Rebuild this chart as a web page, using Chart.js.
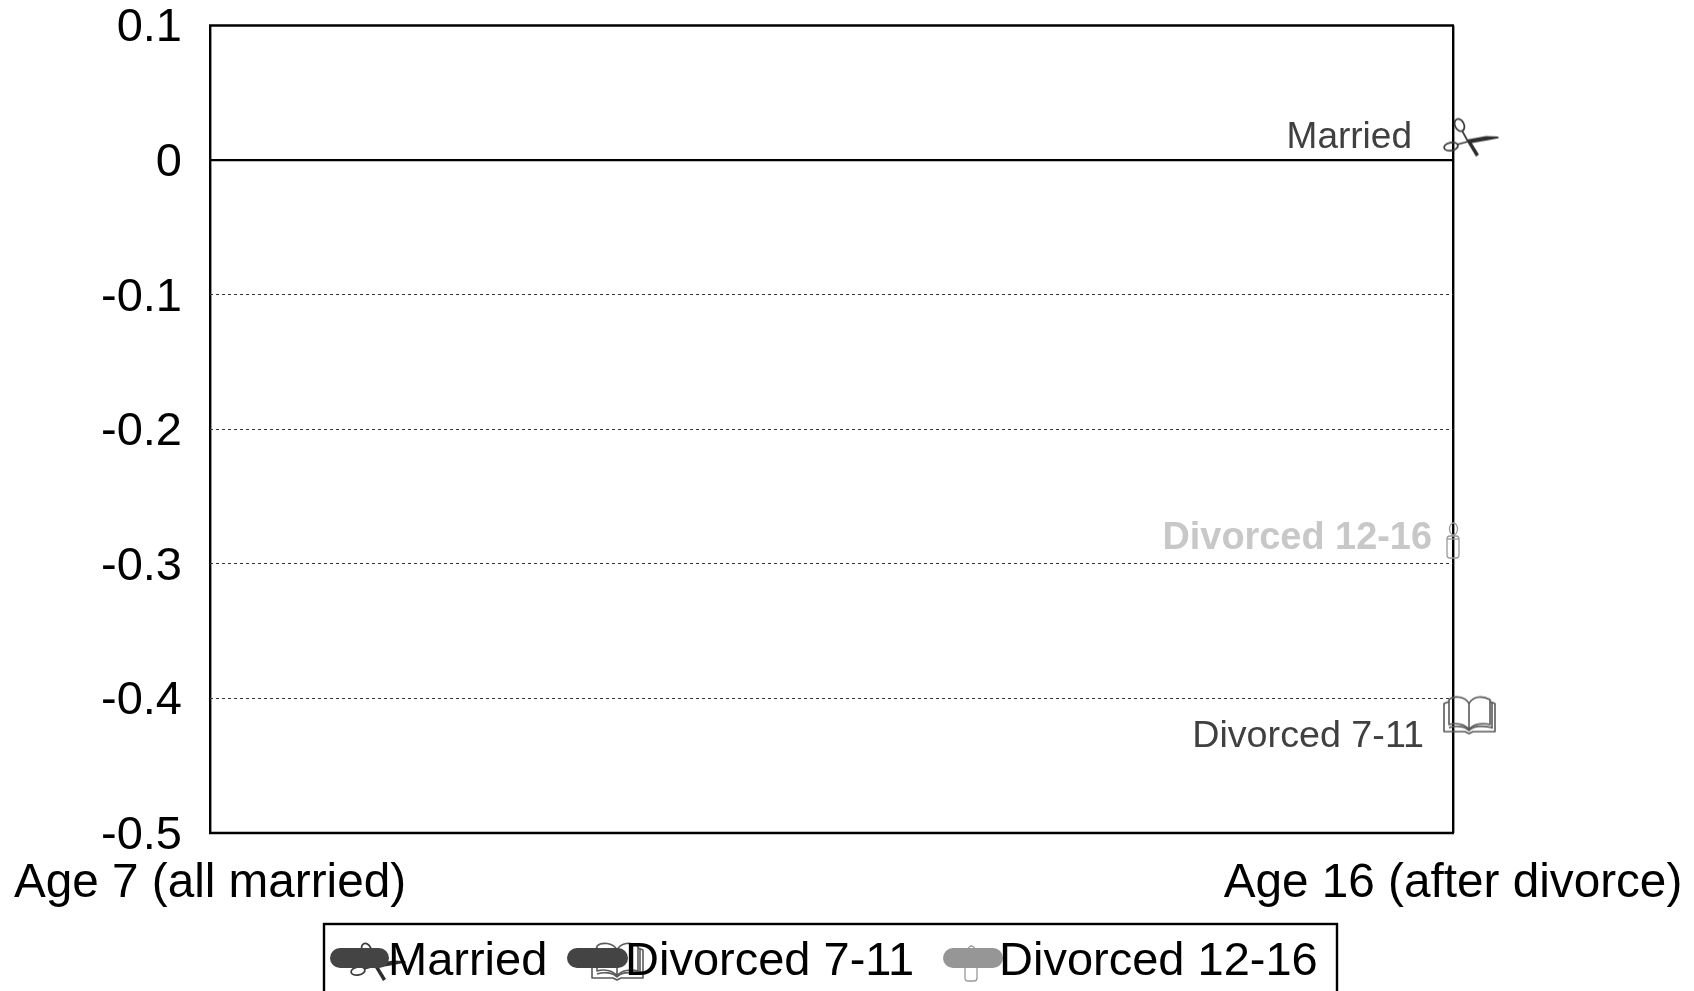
<!DOCTYPE html>
<html><head><meta charset="utf-8">
<style>html,body{margin:0;padding:0;background:#fff;overflow:hidden}#w{width:1694px;height:991px;position:relative}canvas{display:block;filter:blur(.45px)}</style>
<script src="https://cdn.jsdelivr.net/npm/chart.js@4/dist/chart.umd.js"></script>
</head><body><div id="w"><canvas id="c" width="1694" height="991"></canvas></div>
<script>
const categories = ['Age 7 (all married)', 'Age 16 (after divorce)'];
const seriesNames = ['Married', 'Divorced 7-11', 'Divorced 12-16'];
const marriedValues = [null, 0.016];
const divorced711Values = [null, -0.412];
const divorced1216Values = [null, -0.283];
const yTicks = [0.1, 0, -0.1, -0.2, -0.3, -0.4, -0.5];

const FONT = '"Liberation Sans", Arial, sans-serif';

function makeIcon(draw) {
  const c = document.createElement('canvas');
  c.width = 120; c.height = 60;
  const x = c.getContext('2d');
  x.translate(60, 30);
  draw(x);
  return c;
}
const scissors = makeIcon(x => {
  x.strokeStyle = '#3a3a3a'; x.fillStyle = '#2e2e2e'; x.lineWidth = 1.7;
  x.beginPath(); x.ellipse(6.5, -13.5, 4.5, 6.5, -0.45, 0, 7); x.stroke();
  x.beginPath(); x.ellipse(-2, 8, 7, 4, -0.2, 0, 7); x.stroke();
  x.beginPath(); x.moveTo(9, -8); x.lineTo(15, 3); x.moveTo(4, 6); x.lineTo(15, 3); x.stroke();
  x.beginPath(); x.moveTo(14, 1); x.lineTo(33, -2.5); x.lineTo(45, -2); x.lineTo(46, -.5); x.lineTo(36, 1.5); x.lineTo(16, 5); x.closePath(); x.fill();
  x.beginPath(); x.moveTo(14, 3); x.lineTo(18, 3); x.lineTo(26, 16); x.lineTo(23, 18); x.closePath(); x.fill();
});
const book = makeIcon(x => {
  x.strokeStyle = '#5a5a5a'; x.lineWidth = 1.6; x.lineJoin = 'round';
  x.beginPath();
  x.moveTo(16, 15); x.lineTo(16, -11);
  x.bezierCurveTo(12, -19, 0, -19, -4, -15); x.lineTo(-4, 10); x.bezierCurveTo(2, 8, 12, 9, 16, 15);
  x.bezierCurveTo(20, 9, 30, 8, 37, 10); x.lineTo(37, -15); x.bezierCurveTo(30, -19, 20, -19, 16, -11);
  x.stroke();
  x.beginPath();
  x.moveTo(-4, -13); x.lineTo(-9, -11); x.lineTo(-9, 17); x.lineTo(12, 17); x.lineTo(16, 19); x.lineTo(20, 17); x.lineTo(42, 17); x.lineTo(42, -11); x.lineTo(37, -13);
  x.stroke();
  x.beginPath();
  x.moveTo(-4, 13); x.bezierCurveTo(2, 11, 12, 11, 16, 16); x.bezierCurveTo(20, 11, 30, 11, 39, 13);
  x.moveTo(39, -12); x.lineTo(39, 14);
  x.stroke();
});
const candle = makeIcon(x => {
  x.strokeStyle = '#9a9a9a'; x.lineWidth = 1.3;
  x.beginPath(); x.ellipse(0.5, -12, 4, 6, 0, 0, 7); x.stroke();
  x.beginPath();
  x.roundRect(-6, -5, 12, 22, 3);
  x.stroke();
  x.beginPath(); x.moveTo(-6, -2); x.lineTo(6, -2); x.stroke();
});

const pointIcons = [scissors, book, candle];
const lineColors = ['#444444', '#444444', '#969696'];
const labelColors = ['#404040', '#404040', '#c8c8c8'];
const labelWeights = ['normal', 'normal', 'bold'];
const labelSizes = [37, 37.7, 37.9];
const labelOffsets = [[-41, 9.5], [-29, 32], [-21, 8]];
const legendSamples = [[330, 389], [567, 628], [943, 1003]];
const legendTextX = [388, 625, 999];
const legendIconAnchors = [[360, 963], [601, 961], [971, 964]];
const solidTicks = [0.1, 0, -0.5];

const framePlugin = {
  id: 'frame',
  beforeDatasetsDraw(chart) {
    const { ctx, chartArea: a, scales: { y } } = chart;
    ctx.save();
    ctx.strokeStyle = '#000'; ctx.lineWidth = 2.4;
    solidTicks.forEach(v => {
      const p = y.getPixelForValue(v);
      ctx.beginPath(); ctx.moveTo(a.left - 1, p); ctx.lineTo(a.right + 1, p); ctx.stroke();
    });
    ctx.restore();
  },
  afterDatasetsDraw(chart) {
    const { ctx } = chart;
    ctx.save();
    chart.data.datasets.forEach((ds, i) => {
      const pts = chart.getDatasetMeta(i).data;
      const pt = pts[pts.length - 1];
      ctx.font = labelWeights[i] + ' ' + labelSizes[i] + 'px ' + FONT;
      ctx.fillStyle = labelColors[i];
      ctx.textAlign = 'right'; ctx.textBaseline = 'alphabetic';
      ctx.fillText(ds.label, pt.x + labelOffsets[i][0], pt.y + labelOffsets[i][1]);
    });
    ctx.restore();
  },
  afterDraw(chart) {
    const { ctx } = chart;
    ctx.save();
    ctx.strokeStyle = '#000'; ctx.lineWidth = 2.4;
    ctx.strokeRect(324, 924, 1013, 90);
    chart.data.datasets.forEach((ds, i) => {
      const icon = pointIcons[i];
      const [ax, ay] = legendIconAnchors[i];
      ctx.drawImage(icon, ax - icon.width / 2, ay - icon.height / 2);
      ctx.lineCap = 'round'; ctx.lineWidth = 20; ctx.strokeStyle = lineColors[i];
      const [x0, x1] = legendSamples[i];
      ctx.beginPath(); ctx.moveTo(x0 + 10, 958); ctx.lineTo(x1 - 10, 958); ctx.stroke();
      ctx.font = '47px ' + FONT;
      ctx.fillStyle = '#000'; ctx.textAlign = 'left'; ctx.textBaseline = 'alphabetic';
      ctx.fillText(ds.label, legendTextX[i], 975);
    });
    ctx.restore();
  }
};

const values = [marriedValues, divorced711Values, divorced1216Values];
new Chart(document.getElementById('c'), {
  type: 'line',
  data: {
    labels: categories,
    datasets: seriesNames.map((name, i) => ({
      label: name,
      data: values[i],
      showLine: false,
      borderColor: lineColors[i],
      backgroundColor: lineColors[i],
      pointStyle: pointIcons[i],
      pointRadius: 5,
      clip: false
    }))
  },
  options: {
    responsive: false,
    animation: false,
    devicePixelRatio: 1,
    layout: { padding: { top: 25.5, right: 241, bottom: 0, left: 0 } },
    plugins: { legend: { display: false }, tooltip: { enabled: false } },
    scales: {
      x: {
        type: 'category',
        offset: false,
        afterFit(s) { s.height = 158; s.paddingLeft = 0; s.paddingRight = 0; },
        grid: { display: true, drawTicks: false, color: '#000', lineWidth: 2.4 },
        border: { display: false },
        ticks: { autoSkip: false, maxRotation: 0, minRotation: 0, padding: 22, color: '#000', font: { family: FONT, size: 47.7 } }
      },
      y: {
        min: -0.5, max: 0.1,
        afterFit(s) { s.width = 210; s.paddingTop = 0; s.paddingBottom = 0; },
        afterBuildTicks(s) { s.ticks = yTicks.map(v => ({ value: v })); },
        grid: {
          drawTicks: false,
          lineWidth: 1,
          color: c => solidTicks.some(v => Math.abs(v - c.tick.value) < 1e-6) ? 'rgba(0,0,0,0)' : '#333'
        },
        border: { display: false, dash: [3, 3] },
        ticks: {
          padding: 28, labelOffset: 3, color: '#000', font: { family: FONT, size: 47 },
          callback: v => String(Math.round(v * 10) / 10)
        }
      }
    }
  },
  plugins: [framePlugin]
});
</script></body></html>
